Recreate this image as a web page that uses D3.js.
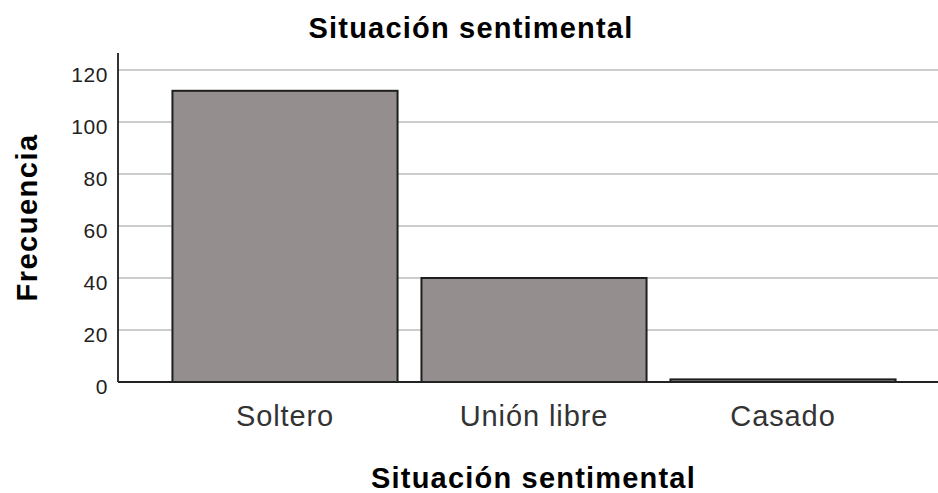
<!DOCTYPE html>
<html lang="es">
<head>
	<meta charset="UTF-8">
	<title>Situación sentimental</title>
	<script src="https://cdn.jsdelivr.net/npm/d3@7"></script>
	<style>
		body { margin: 0; background: #fff; }
		text { font-family: "Liberation Sans", Arial, sans-serif; }
	</style>
</head>
<body>
	<div id="container"></div>
	<script>
		var width = 938;
		var height = 493;

		// data
		var categories = ["Soltero", "Unión libre", "Casado"];
		var frecuencias = [112, 40, 1];
		var yTicks = [0, 20, 40, 60, 80, 100, 120];
		var chartTitle = "Situación sentimental";
		var xTitle = "Situación sentimental";
		var yTitle = "Frecuencia";

		var plotLeft = 118, plotRight = 938, plotTop = 53, plotBottom = 382;

		var svg = d3.select("#container").append("svg")
				.attr("width", width)
				.attr("height", height);

		var x = d3.scaleBand()
				.domain(categories)
				.range([160.5, 907.5])
				.paddingInner(0.096)
				.paddingOuter(0.048);

		var y = d3.scaleLinear()
				.domain([0, 120])
				.range([plotBottom, 70]);

		// grid lines
		svg.selectAll(".grid").data(yTicks.filter(d => d > 0))
			.enter().append("line")
				.attr("x1", plotLeft)
				.attr("x2", plotRight)
				.attr("y1", d => y(d))
				.attr("y2", d => y(d))
				.attr("stroke", "#bdbdbd")
				.attr("stroke-width", 1.5);

		// y axis (labels only, no tick marks)
		var yAxis = d3.axisLeft(y).tickValues(yTicks).tickSize(0).tickPadding(10);
		var gy = svg.append("g")
				.attr("transform", "translate(" + plotLeft + ",0)")
				.call(yAxis);
		gy.select(".domain").remove();
		gy.selectAll("text")
				.attr("font-family", "Liberation Sans, Arial, sans-serif")
				.attr("font-size", 21)
				.attr("letter-spacing", 0.6)
				.attr("fill", "#222")
				.attr("dy", "0.56em");

		// bars
		svg.selectAll(".bar").data(categories)
			.enter().append("rect")
				.attr("x", d => x(d))
				.attr("y", (d, i) => y(frecuencias[i]))
				.attr("width", x.bandwidth())
				.attr("height", (d, i) => y(0) - y(frecuencias[i]))
				.attr("fill", "#948f8e")
				.attr("stroke", "#1e1e1e")
				.attr("stroke-width", 2);

		// axis lines
		svg.append("line")
				.attr("x1", plotLeft).attr("x2", plotLeft)
				.attr("y1", plotTop).attr("y2", plotBottom)
				.attr("stroke", "#333").attr("stroke-width", 2);
		svg.append("line")
				.attr("x1", plotLeft).attr("x2", plotRight)
				.attr("y1", plotBottom).attr("y2", plotBottom)
				.attr("stroke", "#222").attr("stroke-width", 2);

		// category labels
		svg.selectAll(".cat").data(categories)
			.enter().append("text")
				.attr("x", d => x(d) + x.bandwidth() / 2)
				.attr("y", 426)
				.attr("text-anchor", "middle")
				.attr("font-size", 29)
				.attr("letter-spacing", 0.9)
				.attr("fill", "#333")
				.text(d => d);

		// titles
		svg.append("text")
				.attr("x", 471).attr("y", 38)
				.attr("text-anchor", "middle")
				.attr("font-size", 29).attr("font-weight", "bold")
				.attr("letter-spacing", 1.2)
				.attr("fill", "#000")
				.text(chartTitle);

		svg.append("text")
				.attr("x", 533.5).attr("y", 488)
				.attr("text-anchor", "middle")
				.attr("font-size", 29).attr("font-weight", "bold")
				.attr("letter-spacing", 1.2)
				.attr("fill", "#000")
				.text(xTitle);

		svg.append("text")
				.attr("transform", "translate(37,217.5) rotate(-90)")
				.attr("text-anchor", "middle")
				.attr("font-size", 29).attr("font-weight", "bold")
				.attr("letter-spacing", 1.5)
				.attr("fill", "#000")
				.text(yTitle);
	</script>
</body>
</html>
